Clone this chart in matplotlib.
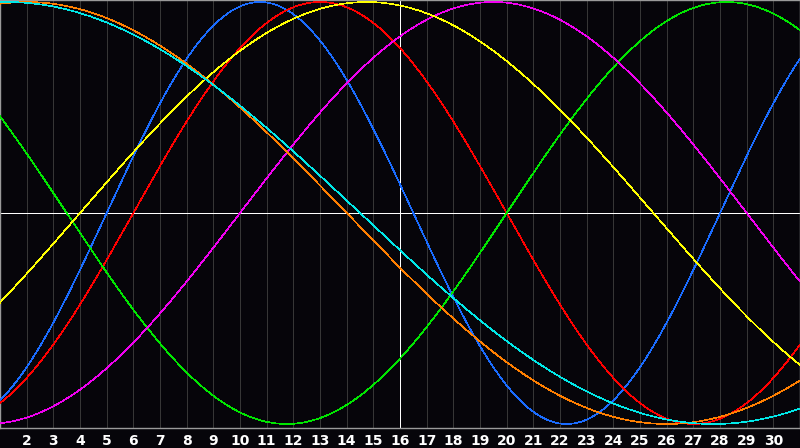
import numpy as np
import matplotlib
matplotlib.use("Agg")
import matplotlib.pyplot as plt

# ---- data ----
cycles = ["Physical", "Emotional", "Intellectual", "Intuitive",
          "Aesthetic", "Awareness", "Spiritual"]
periods = [23, 28, 33, 38, 43, 48, 53]          # cycle length in days
rise_day = [5.0, 6.0, 20.0, 10.0, 4.0, -10.0, -12.0]  # chart day of upward zero crossing
colors = ["#1a6cff", "#ff0000", "#00e600", "#f000f0",
          "#ffff00", "#ff7f00", "#00e8e8"]
day_ticks = [2, 3, 4, 5, 6, 7, 8, 9, 10, 11, 12, 13, 14, 15, 16,
             17, 18, 19, 20, 21, 22, 23, 24, 25, 26, 27, 28, 29, 30]
first_day, last_day, today = 1, 31, 16

W, H, DPI = 800, 448, 100
fig = plt.figure(figsize=(W / DPI, H / DPI), dpi=DPI)
fig.patch.set_facecolor("#06050a")
ax = fig.add_axes([0, 20 / H, 1, 428 / H])
ax.set_facecolor("#06050a")

ax.set_xlim(first_day, last_day)
ax.set_ylim(-215 / 211, 213 / 211)

lw = 0.45  # about one pixel, drawn aliased

for d in day_ticks:
    if d != today:
        ax.axvline(d, color="#363636", lw=lw, antialiased=False, zorder=1)
ax.axvline(today, color="#ffffff", lw=lw, antialiased=False, zorder=1)
ax.axhline(0, color="#ffffff", lw=lw, antialiased=False, zorder=1)

t = np.linspace(first_day, last_day, 1601)
for name, P, r, c in zip(cycles, periods, rise_day, colors):
    ax.plot(t, np.sin(2 * np.pi * (t - r) / P), color=c, lw=lw,
            antialiased=False, zorder=3, label=name)

for s in ax.spines.values():
    s.set_color("#9a9a9a")
    s.set_linewidth(1.0)

ax.set_xticks(day_ticks)
ax.set_xticklabels([str(d) for d in day_ticks])
ax.tick_params(axis="x", length=0, pad=4, colors="white", labelsize=10)
for lbl in ax.get_xticklabels():
    lbl.set_fontweight("bold")
ax.set_yticks([])

fig.savefig("out.png", dpi=DPI, facecolor=fig.get_facecolor())
